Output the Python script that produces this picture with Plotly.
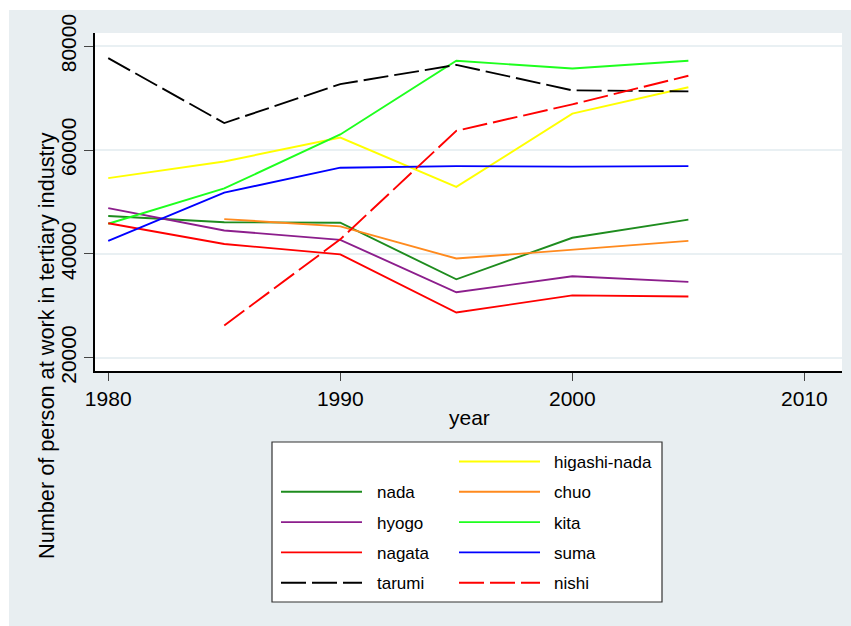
import plotly.graph_objects as go

# Tertiary-industry employment by ward of Kobe
years = [1980, 1985, 1990, 1995, 2000, 2005]

higashi_nada = [54600, 57800, 62400, 52900, 67000, 72100]
nada = [47300, 46100, 46000, 35100, 43100, 46600]
chuo = [None, 46700, 45300, 39100, 40800, 42500]
hyogo = [48800, 44500, 42700, 32600, 35700, 34600]
kita = [45800, 52600, 63000, 77200, 75700, 77200]
nagata = [45900, 41900, 39900, 28700, 32000, 31800]
suma = [42500, 51800, 56600, 56900, 56800, 56900]
tarumi = [77700, 65200, 72700, 76400, 71500, 71300]
nishi = [None, 26200, 42800, 63700, 68800, 74300]

y_ticks = [20000, 40000, 60000, 80000]
x_ticks = [1980, 1990, 2000, 2010]

DASH = "25px,6px"
# (name, values, colour, dash); legend order runs row-wise in two columns,
# with the first slot left empty
series = [
    None,
    ("higashi-nada", higashi_nada, "#ffff00", "solid"),
    ("nada", nada, "#1e8c1e", "solid"),
    ("chuo", chuo, "#ff8a1e", "solid"),
    ("hyogo", hyogo, "#8c1e8c", "solid"),
    ("kita", kita, "#1eff1e", "solid"),
    ("nagata", nagata, "#ff0000", "solid"),
    ("suma", suma, "#0000ff", "solid"),
    ("tarumi", tarumi, "#000000", DASH),
    ("nishi", nishi, "#ff0000", DASH),
]

W, H = 851, 626
ML, MR, MT, MB = 95, 9, 33, 255
PW, PH = W - ML - MR, H - MT - MB
FONT = "Liberation Sans, Arial, sans-serif"
BG = "#e8eef1"


def px(x):
    return (x - ML) / PW


def py(y):
    return (H - MB - y) / PH


fig = go.Figure()
for s in series:
    if s is None:
        continue
    name, vals, color, dash = s
    fig.add_trace(go.Scatter(
        x=years, y=vals, mode="lines", name=name, showlegend=False,
        line=dict(color=color, width=1.9, dash=dash),
        connectgaps=False,
    ))

shapes = [
    # white outer edge on the top and left
    dict(type="rect", xref="paper", yref="paper", x0=px(0), x1=px(9),
         y0=py(H), y1=py(0), fillcolor="white", line_width=0, layer="below"),
    dict(type="rect", xref="paper", yref="paper", x0=px(0), x1=px(W),
         y0=py(10), y1=py(0), fillcolor="white", line_width=0, layer="below"),
    # legend frame
    dict(type="rect", xref="paper", yref="paper", x0=px(272), x1=px(662),
         y0=py(602), y1=py(442), fillcolor="white",
         line=dict(color="#333333", width=1.2)),
]
annotations = []

col_line_x = [(281, 362), (459, 540)]
col_text_x = [375, 552]
row_y0, row_step = 461.5, 30.3
for i, s in enumerate(series):
    if s is None:
        continue
    name, vals, color, dash = s
    row, col = divmod(i, 2)
    yy = row_y0 + row * row_step
    x0, x1 = col_line_x[col]
    shapes.append(dict(type="line", xref="paper", yref="paper",
                       x0=px(x0), x1=px(x1), y0=py(yy), y1=py(yy),
                       line=dict(color=color, width=1.9, dash=dash)))
    annotations.append(dict(text=name, xref="paper", yref="paper",
                            x=px(col_text_x[col]), y=py(yy + 1),
                            xanchor="left", yanchor="middle", showarrow=False,
                            font=dict(family=FONT, size=17, color="black")))

# axis titles
annotations.append(dict(text="year", xref="paper", yref="paper",
                        x=px(469), y=py(417.5), xanchor="center", yanchor="middle",
                        showarrow=False, font=dict(family=FONT, size=21, color="black")))
annotations.append(dict(text="Number of person at work in tertiary industry",
                        xref="paper", yref="paper", x=px(46), y=py(346),
                        xanchor="center", yanchor="middle", textangle=-90,
                        showarrow=False, font=dict(family=FONT, size=21.7, color="black")))

fig.update_layout(
    width=W, height=H,
    margin=dict(l=ML, r=MR, t=MT, b=MB, pad=0),
    paper_bgcolor=BG, plot_bgcolor="white",
    font=dict(family=FONT, size=21, color="black"),
    shapes=shapes, annotations=annotations,
    xaxis=dict(
        range=[1979.43, 2011.62], tickvals=x_ticks, ticktext=[str(t) for t in x_ticks],
        showgrid=False, zeroline=False, showline=True, linecolor="black", linewidth=1.5,
        ticks="outside", ticklen=8, tickcolor="#444444", tickwidth=1,
        tickfont=dict(family=FONT, size=21, color="black"),
    ),
    yaxis=dict(
        range=[17438, 82543], tickvals=y_ticks, ticktext=[str(t) for t in y_ticks],
        showgrid=True, gridcolor="#e9f0f3", gridwidth=1.5, zeroline=False,
        showline=True, linecolor="black", linewidth=1.5,
        ticks="outside", ticklen=9, tickcolor="#444444", tickwidth=1,
        tickangle=-90, tickfont=dict(family=FONT, size=21, color="black"),
    ),
)

fig.write_html("out.html")
